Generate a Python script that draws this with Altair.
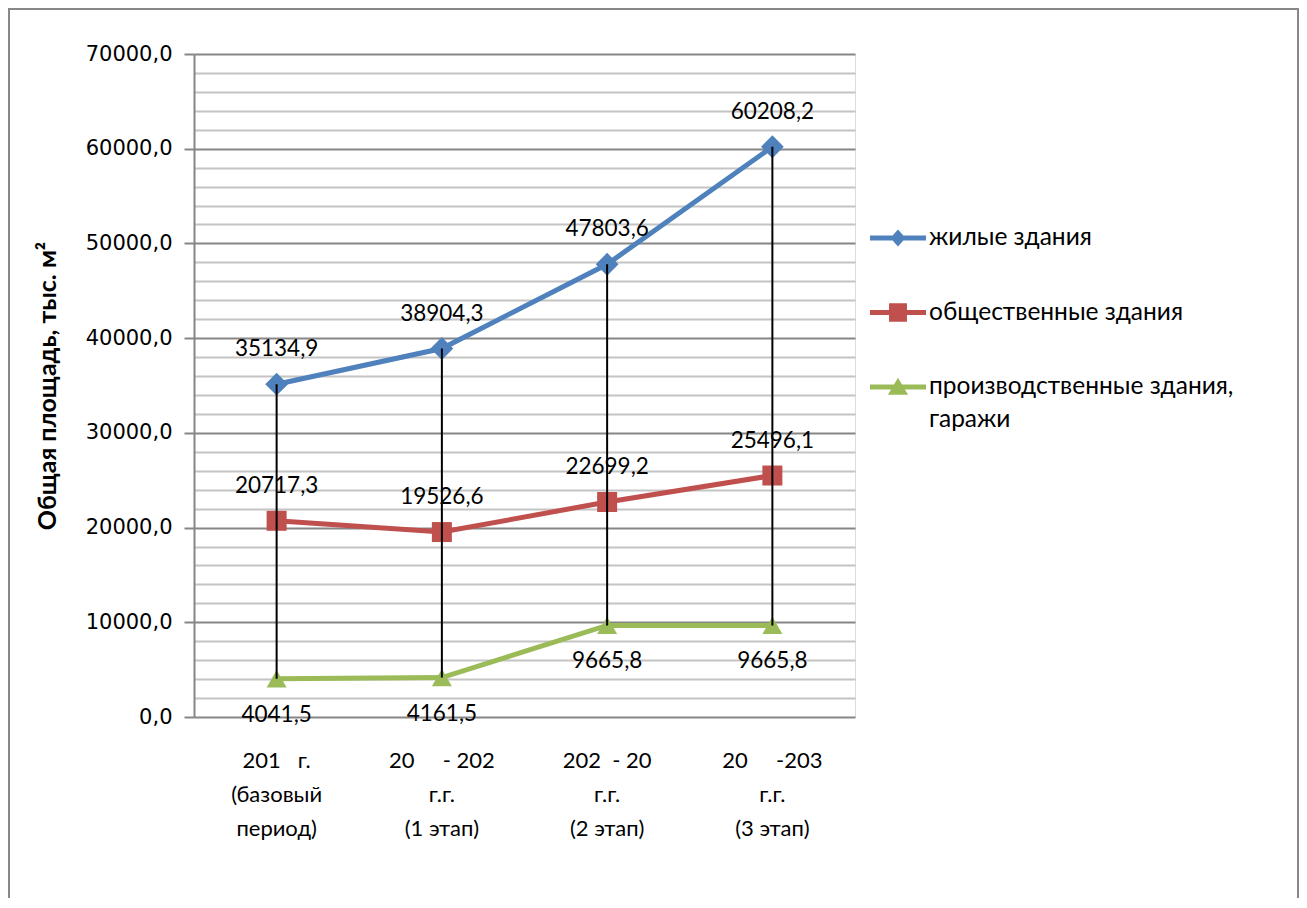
import altair as alt
import pandas as pd

NB = "\u00a0"
categories = [
    f"201{NB*3}г.|(базовый|период)",
    f"20{NB*5}- 202|г.г.|(1 этап)",
    f"202{NB*2}- 20|г.г.|(2 этап)",
    f"20{NB*5}-203|г.г.|(3 этап)",
]
series_names = ["жилые здания", "общественные здания", "производственные здания, гаражи"]
residential = [35134.9, 38904.3, 47803.6, 60208.2]
public = [20717.3, 19526.6, 22699.2, 25496.1]
industrial = [4041.5, 4161.5, 9665.8, 9665.8]
colors = ["#4F81BD", "#C0504D", "#9BBB59"]
point_shapes = ["diamond", "square", "triangle-up"]
point_sizes = [520, 400, 400]
y_ticks = list(range(0, 70001, 2000))

LINE = "M-1,-0.09L1,-0.09L1,0.09L-1,0.09Z"
legend_paths = [
    LINE + "M0,-0.3L0.27,0L0,0.3L-0.27,0Z",
    LINE + "M-0.32,-0.33L0.32,-0.33L0.32,0.33L-0.32,0.33Z",
    LINE + "M0,-0.33L0.36,0.28L-0.36,0.28Z",
]

rows = []
for s, vals in zip(series_names, [residential, public, industrial]):
    for c, v in zip(categories, vals):
        rows.append({"cat": c, "series": s, "value": v})
df = pd.DataFrame(rows)

rule_df = pd.DataFrame({
    "cat": categories,
    "top": [max(a, b, c) for a, b, c in zip(residential, public, industrial)],
    "bottom": [min(a, b, c) for a, b, c in zip(residential, public, industrial)],
})

FONT = "Lato"
color_scale = alt.Scale(domain=series_names, range=colors)
shape_scale = alt.Scale(domain=series_names, range=legend_paths)

x_axis = alt.Axis(title=None, labelExpr="split(datum.label, '|')", labelAngle=0,
                  labelFont=FONT, labelFontSize=22, labelLineHeight=34,
                  labelPadding=33, labelColor="black", ticks=False, domain=False)
y_axis = alt.Axis(
    values=y_ticks,
    labelExpr="datum.value % 10000 === 0 ? replace(format(datum.value, '.1f'), '.', ',') : ''",
    labelOverlap=False,
    gridColor={"condition": {"test": "datum.value % 10000 === 0", "value": "#868686"}, "value": "#c4c4c4"},
    gridWidth=2,
    tickColor={"condition": {"test": "datum.value % 10000 === 0", "value": "#868686"}, "value": "transparent"},
    tickSize=10, tickWidth=2,
    domainColor="#868686", domainWidth=2,
    labelFont="DejaVu Sans", labelFontSize=21, labelColor="black", labelPadding=12,
    title="Общая площадь, тыс. м²", titleFont=FONT, titleFontWeight="bold",
    titleFontSize=25, titleColor="black", titleAngle=270, titleAlign="center",
    titleBaseline="middle", titleX=-147, titleY=331.5,
)
y_scale = alt.Scale(domain=[0, 70000], nice=False)

legend_def = alt.Legend(
    title=None, orient="none", legendX=676, legendY=156,
    symbolSize=3136, symbolStrokeWidth=0, labelFont=FONT, labelFontSize=24.5,
    labelColor="black", labelOffset=3, rowPadding=34.5, labelLimit=500,
    labelExpr="datum.label == 'производственные здания, гаражи' ? ['производственные здания,', 'гаражи'] : datum.label",
)


def X():
    return alt.X("cat:N", sort=categories, axis=x_axis)


def Y(field="value"):
    return alt.Y(f"{field}:Q", scale=y_scale, axis=y_axis)


def C():
    return alt.Color("series:N", scale=color_scale, legend=legend_def)


base = alt.Chart(df)

lines = base.mark_line(strokeWidth=5).encode(x=X(), y=Y(), color=C(), detail="series:N")

point_layers = []
for s, shp, sz in zip(series_names, point_shapes, point_sizes):
    point_layers.append(
        base.transform_filter(alt.datum.series == s).mark_point(
            filled=True, opacity=1, shape=shp, size=sz
        ).encode(x=X(), y=Y(), color=C())
    )

rules = alt.Chart(rule_df).mark_rule(color="black", strokeWidth=2).encode(
    x=X(), y=Y("top"), y2="bottom:Q"
)

label_calc = "replace(format(datum.value, '.1f'), '.', ',')"
text_above = base.transform_filter(
    alt.datum.series != series_names[2]
).transform_calculate(lbl=label_calc).mark_text(
    font=FONT, fontSize=22.5, color="black", dy=-35
).encode(x=X(), y=Y(), text="lbl:N")

text_below = base.transform_filter(
    alt.datum.series == series_names[2]
).transform_calculate(lbl=label_calc).mark_text(
    font=FONT, fontSize=22.5, color="black", dy=36
).encode(x=X(), y=Y(), text="lbl:N")

legend_layer = base.mark_point(filled=True, opacity=1, size=3136).encode(
    x=alt.value(0), y=alt.value(-700),
    color=C(),
    shape=alt.Shape("series:N", scale=shape_scale, legend=legend_def),
)

border = alt.Chart(pd.DataFrame({"a": [0]})).mark_rect(
    fill="transparent", stroke="#878787", strokeWidth=2, clip=False
).encode(x=alt.value(-185), x2=alt.value(1104), y=alt.value(-45), y2=alt.value(860))

chart = alt.layer(
    lines, *point_layers, rules, text_above, text_below, legend_layer, border
).properties(
    width=661, height=663,
    padding={"left": 186, "top": 46, "right": 444, "bottom": 181},
    autosize="none",
).configure_view(stroke="transparent").configure(
    style={"guide-label": {"lineHeight": 33}}
)

chart.save("out.html", embed_options={"renderer": "svg", "actions": False})
